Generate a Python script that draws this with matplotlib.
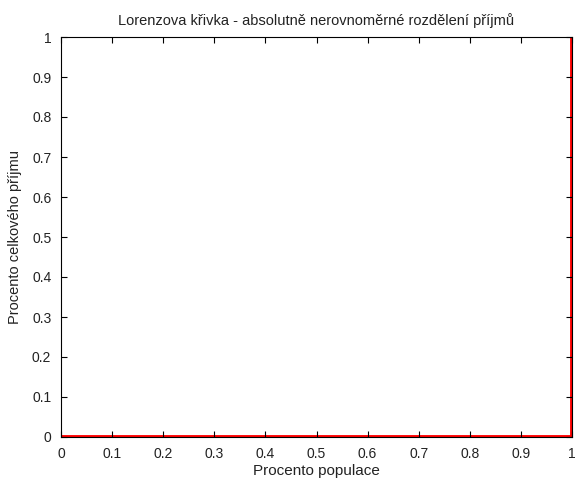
import matplotlib.pyplot as plt
import numpy as np

# Lorenzova krivka - absolutne nerovnomerne rozdeleni
populace = [0, 1, 1]
prijem = [0, 0, 1]
ticks = [0, 0.1, 0.2, 0.3, 0.4, 0.5, 0.6, 0.7, 0.8, 0.9, 1]
tick_labels = ['0', '0.1', '0.2', '0.3', '0.4', '0.5', '0.6', '0.7', '0.8', '0.9', '1']

plt.rcParams['font.family'] = ['Liberation Sans', 'DejaVu Sans']
plt.rcParams['font.size'] = 10

fig = plt.figure(figsize=(5.78, 4.78), dpi=100)
ax = fig.add_axes([61 / 578, 1 - 437 / 478, 511 / 578, 400 / 478])

ax.plot(populace, prijem, color='red', lw=3.5, zorder=1)

ax.set_xlim(0, 1)
ax.set_ylim(0, 1)
ax.set_xticks(ticks)
ax.set_xticklabels(tick_labels)
ax.set_yticks(ticks)
ax.set_yticklabels(tick_labels)
ax.tick_params(direction='in', length=4, width=0.8, top=True, right=True,
               colors='black', labelcolor='#222222')
ax.tick_params(axis='x', pad=7)
ax.tick_params(axis='y', pad=7)
for s in ax.spines.values():
    s.set_linewidth(0.8)
    s.set_zorder(3)

ax.set_title('Lorenzova křivka - absolutně nerovnoměrné rozdělení příjmů',
             fontsize=10.5, pad=9, color='#222222')
ax.set_xlabel('Procento populace', fontsize=11, labelpad=2, color='#222222')
ax.set_ylabel('Procento celkového příjmu', fontsize=10.5, labelpad=7, color='#222222')

fig.savefig('out.png', dpi=100)
